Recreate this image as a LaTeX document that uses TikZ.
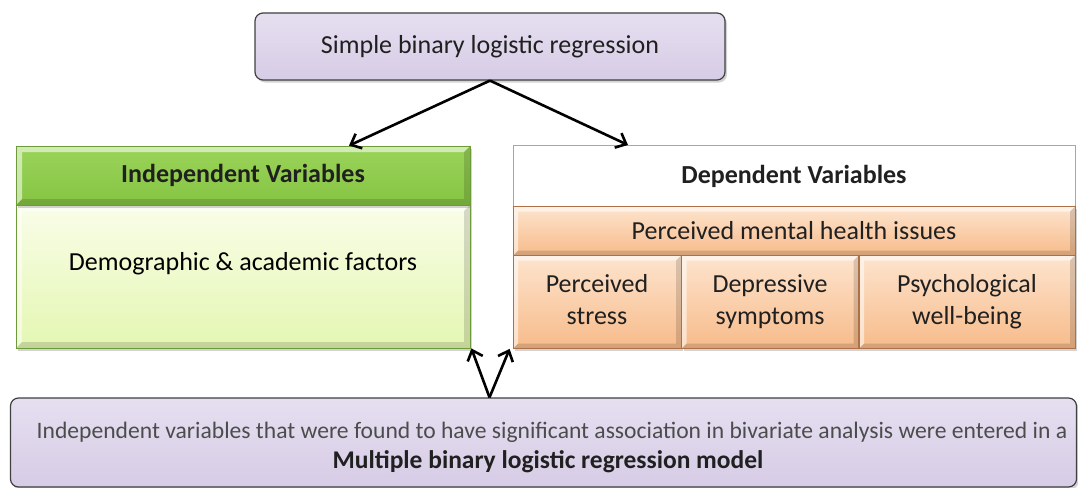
\documentclass[tikz,border=0pt]{standalone}
\usepackage{fontspec}
\setmainfont{Carlito}
\usetikzlibrary{arrows.meta,shadows,calc}
\definecolor{lav}{HTML}{D6CCE6}
\definecolor{lavtop}{HTML}{E6DFF0}
\definecolor{grnhead}{HTML}{9AD45A}
\definecolor{grnheadd}{HTML}{86C443}
\definecolor{grnbodyt}{HTML}{F9FDE8}
\definecolor{grnbodyb}{HTML}{E4F7B2}
\definecolor{grnedge}{HTML}{6E9B3A}
\definecolor{orgedge}{HTML}{E8955A}
\definecolor{orgtop}{HTML}{FDE4CE}
\definecolor{orgbot}{HTML}{F7BB8A}
\definecolor{txt}{HTML}{202020}
\begin{document}
\begin{tikzpicture}[x=1pt,y=-1pt,
  shad/.style={drop shadow={opacity=0.35,shadow xshift=2pt,shadow yshift=-2.5pt}},
  bevel/.style={path picture={
    \coordinate (bsw) at (path picture bounding box.south west);
    \coordinate (bse) at (path picture bounding box.south east);
    \coordinate (bnw) at (path picture bounding box.north west);
    \coordinate (bne) at (path picture bounding box.north east);
    \fill[white,opacity=0.55] (bsw) -- (bnw) -- (bne) -- ([shift={(-#1,-#1)}]bne) -- ([shift={(#1,-#1)}]bnw) -- ([shift={(#1,#1)}]bsw) -- cycle;
    \fill[black,opacity=0.14] (bsw) -- (bse) -- (bne) -- ([shift={(-#1,-#1)}]bne) -- ([shift={(-#1,#1)}]bse) -- ([shift={(#1,#1)}]bsw) -- cycle;
  }},
  lavbox/.style={draw=black!75,line width=1.2pt,rounded corners=8pt,top color=lavtop,bottom color=lav,shad,inner sep=0pt,text=txt,align=center},
  grnhd/.style={draw=grnedge,line width=0.8pt,top color=grnhead,bottom color=grnheadd,inner sep=0pt,text=txt,shad,bevel=6pt},
  grnbd/.style={draw=grnedge,line width=0.8pt,top color=grnbodyt,bottom color=grnbodyb,inner sep=0pt,text=txt,shad,bevel=6pt},
  orghd/.style={draw=orgedge,line width=1pt,fill=white,inner sep=0pt,text=txt},
  orgcell/.style={draw=orgedge!75!black,line width=0.8pt,top color=orgtop,bottom color=orgbot,inner sep=0pt,text=txt,align=center,shad,bevel=5pt},
  arr/.style={draw=black,line width=2.6pt,-{Straight Barb[length=9pt,width=16pt,line width=2.6pt]}},
  fs/.style={font=\fontsize{26}{32}\selectfont},
  fsb/.style={font=\fontsize{26}{32}\selectfont\bfseries}
]
\useasboundingbox (0,0) rectangle (1078,487);
% top box
\node[lavbox,fs,minimum width=470pt,minimum height=67pt] (top) at (490,46.5) {Simple binary logistic regression};
% independent
\node[grnbd,minimum width=454pt,minimum height=143pt] (indb) at (243,276.5) {};
\node[fs] (indbt) at (243,264) {Demographic \& academic factors};
\node[grnhd,fsb,minimum width=454pt,minimum height=59pt] (indh) at (243,175.5) {Independent Variables};
% dependent
\node[orghd,fsb,minimum width=562pt,minimum height=61pt] (deph) at (794,176) {Dependent Variables};
\node[orgcell,fs,minimum width=562pt,minimum height=49pt] (ment) at (794,231) {Perceived mental health issues};
\node[orgcell,fs,minimum width=168pt,minimum height=93pt] (c1) at (597,302) {Perceived\strut\\stress\strut};
\node[orgcell,fs,minimum width=177pt,minimum height=93pt] (c2) at (770,302) {Depressive\strut\\symptoms\strut};
\node[orgcell,fs,minimum width=216pt,minimum height=93pt] (c3) at (967,302) {Psychological\strut\\well-being\strut};
% bottom box
\node[lavbox,minimum width=1066pt,minimum height=89pt] (bot) at (543.5,442.5) {};
\node[text=black!70,font=\fontsize{23.6}{28}\selectfont] (botl1) at (552,432) {Independent variables that were found to have significant association in bivariate analysis were entered in a};
\node[text=txt,font=\fontsize{25.5}{30}\selectfont\bfseries] (botl2) at (548,462) {Multiple binary logistic regression model};
% arrows
\draw[arr] (top.south) -- ([xshift=106pt]indh.north);
\draw[arr] (top.south) -- ([xshift=-166pt]deph.north);
\draw[arr] ([xshift=-54pt]bot.north) -- ([xshift=1pt]indb.south east);
\draw[arr] ([xshift=-54pt]bot.north) -- ([xshift=-3pt]c1.south west);
\end{tikzpicture}
\end{document}
